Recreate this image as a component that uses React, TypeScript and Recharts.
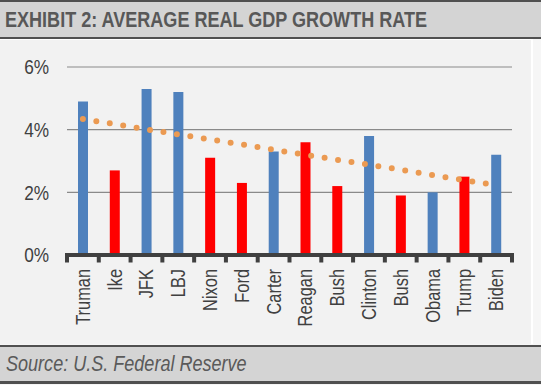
import React from 'react'
import { ComposedChart, Bar, Line, Cell, XAxis, YAxis, CartesianGrid } from 'recharts'

const presidents = ['Truman', 'Ike', 'JFK', 'LBJ', 'Nixon', 'Ford', 'Carter', 'Reagan', 'Bush', 'Clinton', 'Bush', 'Obama', 'Trump', 'Biden']
const growth = [4.9, 2.7, 5.3, 5.2, 3.1, 2.3, 3.3, 3.6, 2.2, 3.8, 1.9, 2.0, 2.5, 3.2]
const party = ['D', 'R', 'D', 'D', 'R', 'R', 'D', 'R', 'R', 'D', 'R', 'D', 'R', 'D']
// dotted trendline at each category
const trend = [4.34, 4.18, 4.01, 3.85, 3.69, 3.53, 3.36, 3.2, 3.04, 2.88, 2.72, 2.55, 2.39, 2.23]
const yTicks = [0, 2, 4, 6]

const BLUE = '#4f81bd'
const RED = '#ff0000'
const FONT = '"Liberation Sans", Arial, sans-serif'
const NARROW = 0.82 // Arial Narrow is roughly Arial squeezed to 82%

const data = presidents.map((name, i) => ({
  name,
  value: growth[i],
  trend: trend[i],
  party: party[i],
}))

function PresidentTick(props: any) {
  const { x, y, payload, index, visibleTicksCount } = props
  const half = payload.offset ?? 15.9
  const left = x - half
  return (
    <g>
      <line x1={left} x2={left} y1={y} y2={y + 7.5} stroke="#404040" strokeWidth={4} />
      {index === visibleTicksCount - 1 && (
        <line x1={x + half} x2={x + half} y1={y} y2={y + 7.5} stroke="#404040" strokeWidth={4} />
      )}
      <text
        transform={`translate(${x},${y + 14}) rotate(-90) scale(${NARROW},1)`}
        textAnchor="end"
        dy="0.35em"
        fill="#404040"
        fontSize={20}
        fontFamily={FONT}
      >
        {payload.value}
      </text>
    </g>
  )
}

function PercentTick(props: any) {
  const { x, y, payload } = props
  return (
    <text
      transform={`translate(${x},${y}) scale(${NARROW},1)`}
      textAnchor="end"
      dy="0.35em"
      fill="#404040"
      fontSize={21}
      fontFamily={FONT}
    >
      {`${payload.value}%`}
    </text>
  )
}

export default function App() {
  return (
    <div style={{ position: 'absolute', left: 0, top: 0, width: 541, height: 385, background: '#f6f6f6', overflow: 'hidden' }}>
      {/* title band */}
      <div
        style={{
          position: 'absolute', left: 0, top: 0, width: 541, height: 35,
          background: '#d4d4d4', borderTop: '2px solid #505050', borderBottom: '2px solid #505050',
        }}
      >
        <div
          style={{
            position: 'absolute', left: 5, top: 5, fontFamily: FONT, fontWeight: 700,
            fontSize: 22, color: '#585858', whiteSpace: 'nowrap',
            transform: `scaleX(${NARROW})`, transformOrigin: 'left center',
          }}
        >
          EXHIBIT 2: AVERAGE REAL GDP GROWTH RATE
        </div>
      </div>

      {/* chart panel */}
      <div
        style={{
          position: 'absolute', left: 0, top: 39, width: 531, height: 304,
          background: '#f2f2f2', borderRight: '2px solid #ffffff', borderTop: '1px solid #ffffff',
        }}
      />
      <div style={{ position: 'absolute', left: 0, top: 39 }}>
        <ComposedChart width={541} height={306} data={data} margin={{ top: 28, right: 29, left: 0, bottom: 0 }}>
          <CartesianGrid vertical={false} stroke="#8a8a8a" strokeWidth={1.2} />
          <XAxis
            dataKey="name"
            interval={0}
            height={90}
            tickLine={false}
            tickSize={0}
            tickMargin={0}
            axisLine={{ stroke: '#404040', strokeWidth: 4, strokeLinecap: 'square' }}
            tick={<PresidentTick />}
          />
          <YAxis
            width={67}
            domain={[0, 6]}
            ticks={yTicks}
            axisLine={false}
            tickLine={false}
            tickSize={0}
            tickMargin={18}
            tick={<PercentTick />}
          />
          <Bar dataKey="value" barSize={10} isAnimationActive={false}>
            {data.map((d, i) => (
              <Cell key={i} fill={d.party === 'D' ? BLUE : RED} />
            ))}
          </Bar>
          <Line
            dataKey="trend"
            stroke="#eb9a52"
            strokeWidth={6}
            strokeDasharray="0 13.6"
            strokeLinecap="round"
            dot={false}
            activeDot={false}
            isAnimationActive={false}
          />
        </ComposedChart>
      </div>

      {/* source band */}
      <div
        style={{
          position: 'absolute', left: 0, top: 345, width: 541, height: 34,
          background: '#d4d4d4', borderTop: '2px solid #505050', borderBottom: '3px solid #505050',
        }}
      >
        <div
          style={{
            position: 'absolute', left: 6, top: 4, fontFamily: FONT, fontStyle: 'italic',
            fontSize: 22, color: '#5a5a5a', whiteSpace: 'nowrap',
            transform: `scaleX(${NARROW})`, transformOrigin: 'left center',
          }}
        >
          Source: U.S. Federal Reserve
        </div>
      </div>
    </div>
  )
}
